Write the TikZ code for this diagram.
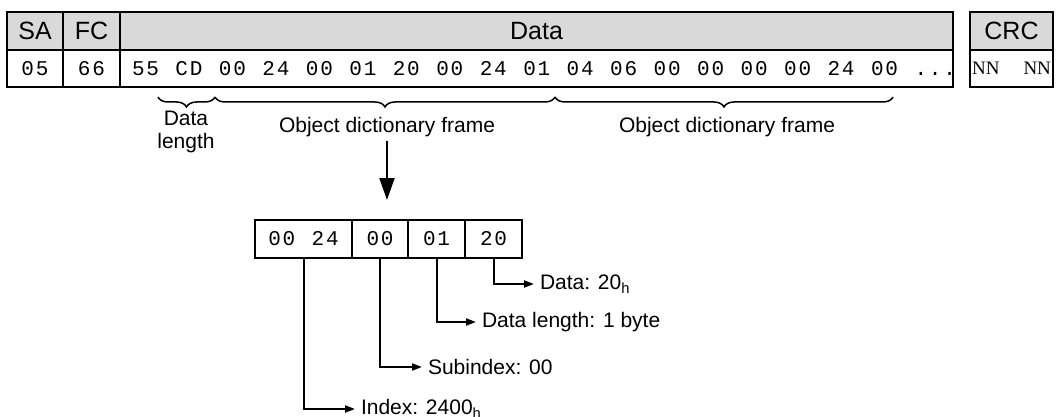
\documentclass[tikz,border=0pt]{standalone}
\usepackage{fontspec}
\setmainfont{Liberation Sans}
\newfontfamily\bytefont[LetterSpace=8.6, WordSpace=1.143]{Liberation Mono}
\newfontfamily\crcfont{Liberation Serif}
\usetikzlibrary{arrows.meta, decorations.pathreplacing}
\definecolor{headgray}{HTML}{D9D9D9}

\begin{document}
\begin{tikzpicture}[x=1pt, y=-1pt, line width=2pt,
  head/.style={draw, fill=headgray, minimum height=38, inner sep=0pt, outer sep=0pt,
    anchor=north west, font=\fontsize{25}{30}\selectfont},
  cell/.style={draw, minimum height=37, inner sep=0pt, outer sep=0pt,
    anchor=north west, font=\bytefont\fontsize{21}{26}\selectfont},
  lbl/.style={font=\fontsize{21}{23}\selectfont},
  tag/.style={lbl, anchor=west, inner xsep=6pt, inner ysep=0pt, outer sep=0pt},
  brace/.style={decorate, decoration={brace, mirror, amplitude=10pt}, line width=1.5pt},
  link/.style={-{Triangle[length=10pt, width=7pt]}},
  bigarrow/.style={-{Triangle[length=22pt, width=15pt]}}]
  \useasboundingbox (0,0) rectangle (1059,417);

  % frame: header row
  \node[head, minimum width=56] (hsa) at (7,12) {SA};
  \node[head, minimum width=57] (hfc) at (63,12) {FC};
  \node[head, minimum width=833] (hdata) at (120,12) {Data};
  \node[head, minimum width=83] (hcrc) at (970,12) {CRC};

  % frame: byte row
  \node[cell, minimum width=56] (vsa) at (7,50) {05};
  \node[cell, minimum width=57] (vfc) at (63,50) {66};
  \node[cell, minimum width=833] (vdata) at (120,50) {};
  \node[cell, anchor=west, inner xsep=12pt, draw=none] (bytes) at (vdata.west)
    {55 CD 00 24 00 01 20 00 24 01 04 06 00 00 00 00 24 00 ...};
  \node[cell, minimum width=83, font=\crcfont\fontsize{19}{22}\selectfont] (vcrc) at (970,50)
    {NN\hspace{24pt}NN};

  % braces under the data bytes
  \coordinate (b0) at (158,97);
  \coordinate (b1) at (215,97);
  \coordinate (b2) at (555,97);
  \coordinate (b3) at (893,97);
  \draw[brace] (b0) -- (b1);
  \draw[brace] (b1) -- (b2);
  \draw[brace] (b2) -- (b3);
  \node[lbl, anchor=north, align=center, inner sep=0pt] (dlen) at (186,110) {Data\\length};
  \node[lbl, anchor=base] (odf1) at (387,132) {Object dictionary frame};
  \node[lbl, anchor=base] (odf2) at (727,132) {Object dictionary frame};

  % one frame taken apart
  \coordinate (drop) at (387,200);
  \draw[bigarrow] (odf1.south) -- (drop);
  \node[cell, minimum height=38, minimum width=97] (oidx) at (255,220) {00 24};
  \node[cell, minimum height=38, minimum width=56] (osub) at (352,220) {00};
  \node[cell, minimum height=38, minimum width=57] (olen) at (408,220) {01};
  \node[cell, minimum height=38, minimum width=57] (odat) at (465,220) {20};

  \node[tag] (ldat) at (534,284) {Data: 20\textsubscript{h}};
  \node[tag] (llen) at (476,322) {Data length: 1 byte};
  \node[tag] (lsub) at (422,367) {Subindex: 00};
  \node[tag] (lidx) at (355,409) {Index: 2400\textsubscript{h}};
  \draw[link] (odat.south) |- (ldat.west);
  \draw[link] (olen.south) |- (llen.west);
  \draw[link] (osub.south) |- (lsub.west);
  \draw[link] (oidx.south) |- (lidx.west);
\end{tikzpicture}
\end{document}
